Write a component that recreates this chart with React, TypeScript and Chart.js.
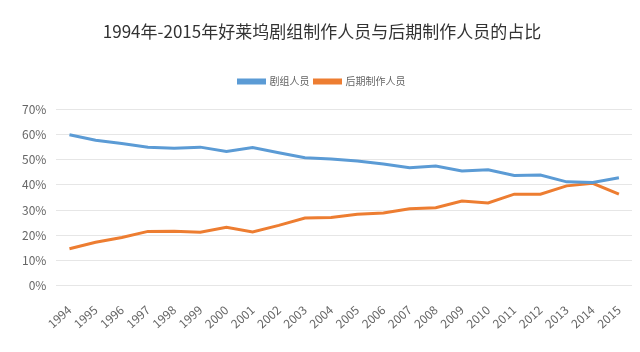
import React, { useEffect, useRef } from "react";
import { Chart, registerables } from "chart.js";

Chart.register(...registerables);

const years = ["1994","1995","1996","1997","1998","1999","2000","2001","2002","2003","2004","2005","2006","2007","2008","2009","2010","2011","2012","2013","2014","2015"];
const crew = [59.9, 57.7, 56.4, 55.0, 54.6, 55.0, 53.3, 54.8, 52.8, 50.8, 50.3, 49.5, 48.3, 46.8, 47.5, 45.5, 46.0, 43.7, 43.9, 41.2, 40.9, 42.8];
const post = [14.6, 17.2, 19.1, 21.5, 21.6, 21.2, 23.1, 21.3, 23.9, 26.8, 27.0, 28.3, 28.8, 30.5, 30.9, 33.6, 32.8, 36.3, 36.3, 39.6, 40.6, 36.3];
const seriesNames = ["剧组人员", "后期制作人员"];
const titleText = "1994年-2015年好莱坞剧组制作人员与后期制作人员的占比";

const FONT = "'Noto Sans CJK SC', 'Noto Sans', sans-serif";

const legendGap = {
  id: "legendGap",
  beforeLayout(chart: any) {
    const lg = chart.legend;
    if (lg && !lg.__patched) {
      const orig = lg.fit.bind(lg);
      lg.fit = function () {
        orig();
        this.height += 13;
      };
      lg.__patched = true;
    }
  },
};

export default function App() {
  const ref = useRef<HTMLCanvasElement | null>(null);
  useEffect(() => {
    document.body.style.margin = "0";
    const ctx = ref.current!;
    const chart = new Chart(ctx, {
      type: "line",
      data: {
        labels: years,
        datasets: [
          { label: seriesNames[0], data: crew, borderColor: "#5b9bd5", backgroundColor: "#5b9bd5", borderWidth: 3, pointRadius: 0, tension: 0 },
          { label: seriesNames[1], data: post, borderColor: "#ed7d31", backgroundColor: "#ed7d31", borderWidth: 3, pointRadius: 0, tension: 0 },
        ],
      },
      options: {
        animation: false,
        responsive: false,
        maintainAspectRatio: false,
        layout: { padding: { left: 12, right: 8, top: 21, bottom: 12 } },
        plugins: {
          title: { display: true, text: titleText, color: "#333", font: { family: FONT, size: 17, weight: "normal" }, padding: { top: 0, bottom: 30 } },
          legend: {
            display: true,
            labels: { boxWidth: 26, boxHeight: 3, color: "#666", font: { family: FONT, size: 10 }, padding: 5 },
          },
          tooltip: { enabled: false },
        },
        scales: {
          x: {
            offset: true,
            grid: { display: false },
            border: { display: false },
            ticks: { color: "#666", font: { family: FONT, size: 12 }, minRotation: 42, maxRotation: 42, autoSkip: false, padding: 9 },
          },
          y: {
            min: 0,
            max: 70,
            grid: { color: "#e6e6e6", drawTicks: false },
            border: { display: false },
            ticks: { stepSize: 10, color: "#666", font: { family: FONT, size: 12 }, padding: 10, callback: (v: any) => v + "%" },
          },
        },
      },
      plugins: [legendGap],
    });
    return () => chart.destroy();
  }, []);
  return (
    <div style={{ position: "fixed", left: 0, top: 0, width: 640, height: 352, background: "#fff" }}>
      <canvas ref={ref} width={640} height={352} style={{ width: 640, height: 352 }} />
    </div>
  );
}
